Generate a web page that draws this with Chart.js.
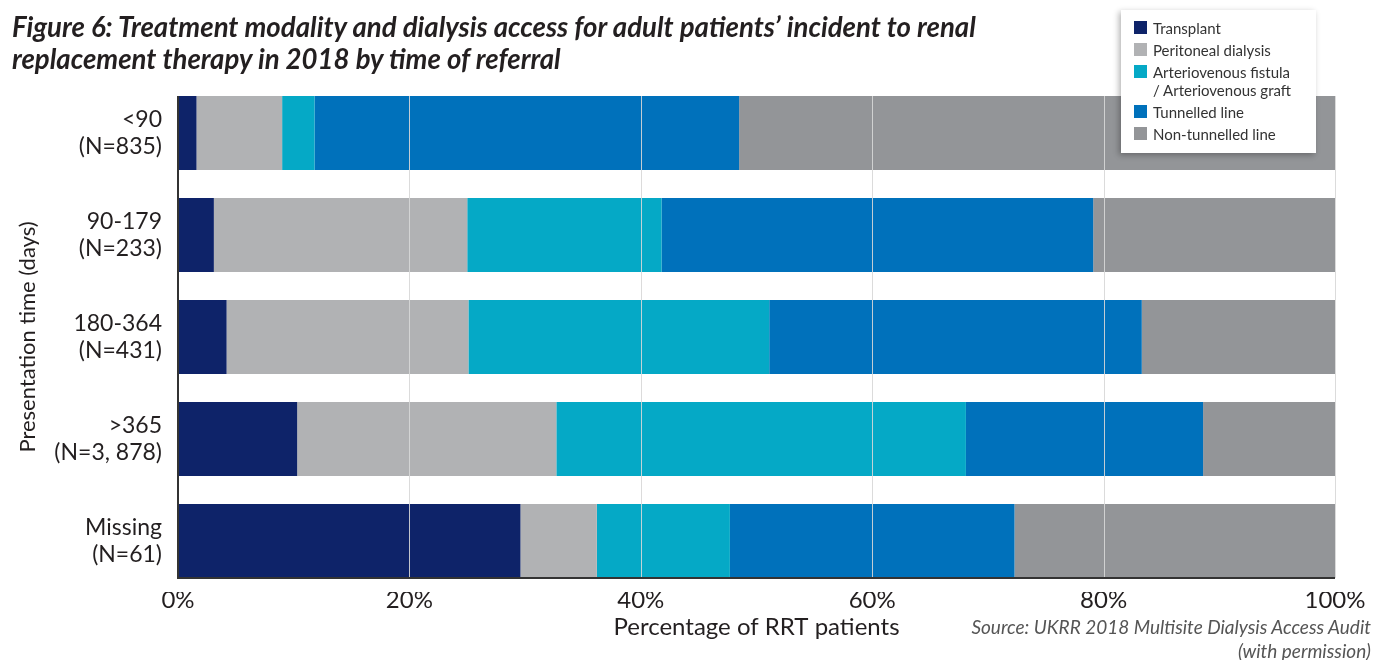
<!DOCTYPE html>
<html>
<head>
<meta charset="utf-8">
<script src="https://cdn.jsdelivr.net/npm/chart.js@4.4.0/dist/chart.umd.min.js"></script>
<style>
  body { margin: 0; background: #fff; font-family: Lato, sans-serif; }
  #wrap { position: relative; width: 1375px; height: 660px; overflow: hidden; }
  #title { position: absolute; left: 12px; top: 10px; font: italic bold 28px/32px Lato; color: #231f20;
           white-space: nowrap; transform-origin: left top; transform: scaleX(0.985); }
  #source { position: absolute; right: 4px; top: 615px; font: italic 19px/24px Lato; color: #555; text-align: right; }
  #legend { position: absolute; left: 1121px; top: 10px; width: 195px; box-sizing: border-box;
            padding: 9px 10px 10px 13px; background: #fff; box-shadow: -2px 2px 6px rgba(0,0,0,0.3); }
  .item { display: flex; align-items: flex-start; margin-bottom: 4px; font: 15px/18px Lato; color: #333; white-space: nowrap; }
  .item:last-child { margin-bottom: 0; }
  .box { width: 13px; height: 13px; margin: 2px 6px 0 0; flex: none; }
</style>
</head>
<body>
<div id="wrap">
  <canvas id="grafica" width="1375" height="660"></canvas>
  <div id="title">Figure 6: Treatment modality and dialysis access for adult patients’ incident to renal<br>replacement therapy in 2018 by time of referral</div>
  <div id="legend"></div>
  <div id="source">Source: UKRR 2018 Multisite Dialysis Access Audit<br>(with permission)</div>
</div>
<script>
var categorias = [['<90', '(N=835)'], ['90-179', '(N=233)'], ['180-364', '(N=431)'], ['>365', '(N=3, 878)'], ['Missing', '(N=61)']];
var nombres = ['Transplant', 'Peritoneal dialysis', 'Arteriovenous fistula / Arteriovenous graft', 'Tunnelled line', 'Non-tunnelled line'];
var colores = ['#0e2369', '#b1b2b4', '#05a9c6', '#0071bb', '#939598'];

var transplant = [1.6, 3.1, 4.2, 10.3, 29.6];
var peritoneal = [7.4, 21.9, 20.9, 22.4, 6.6];
var fistula = [2.8, 16.8, 26.0, 35.4, 11.5];
var tunnelled = [36.7, 37.3, 32.2, 20.5, 24.6];
var nonTunnelled = [51.5, 20.9, 16.7, 11.4, 27.7];
var ticksX = [0, 20, 40, 60, 80, 100];

var series = [transplant, peritoneal, fistula, tunnelled, nonTunnelled];

// legend en html
var legend = document.getElementById('legend');
nombres.forEach(function (n, i) {
  var d = document.createElement('div');
  d.className = 'item';
  d.innerHTML = '<span class="box" style="background:' + colores[i] + '"></span><span>' + n.replace(' / ', '<br>/ ') + '</span>';
  legend.appendChild(d);
});

// lineas de rejilla y ejes encima de las barras
var lineas = {
  id: 'lineas',
  afterDatasetsDraw: function (chart) {
    var ctx = chart.ctx, x = chart.scales.x;
    var meta = chart.getDatasetMeta(0);
    var first = meta.data[0].getProps(['y', 'height'], true);
    var last = meta.data[meta.data.length - 1].getProps(['y', 'height'], true);
    var top = first.y - first.height / 2, bottom = last.y + last.height / 2;
    ctx.save();
    ctx.strokeStyle = 'rgba(215,215,215,0.9)';
    ctx.lineWidth = 1;
    ticksX.forEach(function (v) {
      if (v === 0) return;
      var px = Math.round(x.getPixelForValue(v)) + 0.5;
      ctx.beginPath(); ctx.moveTo(px, top); ctx.lineTo(px, bottom); ctx.stroke();
    });
    ctx.strokeStyle = '#333';
    ctx.lineWidth = 2;
    var x0 = x.getPixelForValue(0);
    ctx.beginPath();
    ctx.moveTo(x0, top); ctx.lineTo(x0, bottom);
    ctx.lineTo(x.getPixelForValue(100), bottom);
    ctx.stroke();
    ctx.restore();
  }
};

var grafica = new Chart(document.getElementById('grafica').getContext('2d'), {
  type: 'bar',
  data: {
    labels: categorias,
    datasets: series.map(function (s, i) {
      return { label: nombres[i], data: s, backgroundColor: colores[i], borderWidth: 0,
               barPercentage: 1, categoryPercentage: 0.725 };
    })
  },
  options: {
    indexAxis: 'y',
    responsive: false,
    animation: false,
    devicePixelRatio: 1,
    layout: { padding: { top: 82, right: 40, left: 0, bottom: 0 } },
    plugins: { legend: { display: false }, tooltip: { enabled: false } },
    scales: {
      x: {
        stacked: true, min: 0, max: 100,
        afterFit: function (s) { s.height = 68; },
        afterBuildTicks: function (s) { s.ticks = ticksX.map(function (v) { return { value: v }; }); },
        grid: { display: false, drawTicks: false },
        border: { display: false },
        ticks: { padding: -6, color: '#231f20', font: { family: 'Lato', size: 24 },
                 callback: function (v) { return v + '%'; } },
        title: { display: true, text: 'Percentage of RRT patients', color: '#231f20',
                 font: { family: 'Lato', size: 24 }, padding: { top: 0, bottom: 18 } }
      },
      y: {
        stacked: true,
        afterFit: function (s) { s.width = 178; },
        grid: { display: false, drawTicks: false },
        border: { display: false },
        ticks: { padding: 16, color: '#231f20', font: { family: 'Lato', size: 23, lineHeight: 1.18 } },
        title: { display: true, text: 'Presentation time (days)', color: '#231f20',
                 font: { family: 'Lato', size: 22 }, padding: { top: 15, bottom: 0 } }
      }
    }
  },
  plugins: [lineas]
});
</script>
</body>
</html>
